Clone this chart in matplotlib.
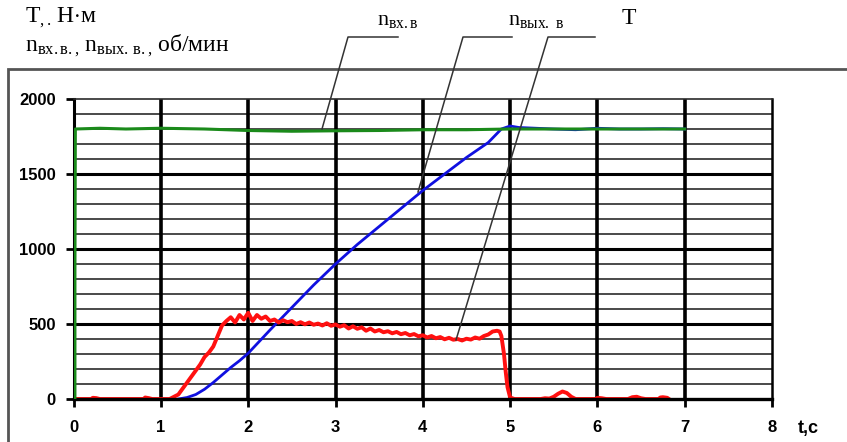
import matplotlib
matplotlib.use("Agg")
import matplotlib.pyplot as plt
from matplotlib.patches import Rectangle
from matplotlib.lines import Line2D

plt.rcParams["font.family"] = "Liberation Sans"
plt.rcParams["mathtext.fontset"] = "custom"
plt.rcParams["mathtext.rm"] = "Liberation Serif"
plt.rcParams["mathtext.it"] = "Liberation Serif"

# input shaft speed n_вх.в, rpm
t_in = [0.015, 0.015, 0.02, 0.3, 0.6, 1.0, 1.5, 2.0, 2.5, 3.0, 3.5, 4.0, 4.5, 5.0, 5.5, 6.0, 6.5, 7.0]
n_in = [0, 850, 1800, 1805, 1800, 1805, 1800, 1790, 1785, 1788, 1790, 1795, 1795, 1800, 1800, 1800, 1800, 1800]

# output shaft speed n_вых.в, rpm
t_out = [1.2, 1.3, 1.4, 1.5, 1.6, 1.7, 1.8, 1.9, 2.0, 2.25, 2.5, 2.75, 3.0, 3.25, 3.5, 3.75, 4.0,
         4.25, 4.5, 4.75, 4.9, 5.0, 5.1, 5.3, 5.5, 5.75, 6.0, 6.25, 6.5, 6.75, 7.0]
n_out = [0, 10, 30, 65, 110, 160, 210, 255, 305, 460, 610, 760, 900, 1030, 1150, 1270, 1390,
         1500, 1610, 1710, 1800, 1820, 1810, 1805, 1800, 1795, 1805, 1800, 1800, 1802, 1800]

# torque T, N*m
t_T = [0.0, 0.2, 0.22, 0.26, 0.3, 0.8, 0.82, 0.86, 0.9, 1.1, 1.15, 1.2, 1.25, 1.3, 1.35, 1.4, 1.45,
       1.5, 1.55, 1.6, 1.65, 1.7, 1.75, 1.8, 1.85, 1.9, 1.95, 2.0, 2.05, 2.1, 2.15, 2.2, 2.25, 2.3,
       2.35, 2.4, 2.45, 2.5, 2.55, 2.6, 2.65, 2.7, 2.75, 2.8, 2.85, 2.9, 2.95, 3.0, 3.05, 3.1,
       3.15, 3.2, 3.25, 3.3, 3.35, 3.4, 3.45, 3.5, 3.55, 3.6, 3.65, 3.7, 3.75, 3.8, 3.85, 3.9,
       3.95, 4.0, 4.05, 4.1, 4.15, 4.2, 4.25, 4.3, 4.35, 4.4, 4.45, 4.5, 4.55, 4.6, 4.65, 4.7,
       4.75, 4.8, 4.85, 4.88, 4.9, 4.93, 4.95, 4.97, 5.0, 5.05,
       5.35, 5.4, 5.45, 5.5, 5.55, 5.6, 5.65, 5.7, 5.75, 5.98, 6.0, 6.05, 6.1, 6.35, 6.4, 6.45,
       6.5, 6.55, 6.7, 6.72, 6.75, 6.8, 6.82]
T = [0, 0, 8, 6, 0, 0, 10, 6, 0, 0, 15, 30, 70, 110, 150, 190, 230,
     280, 310, 350, 420, 490, 520, 545, 510, 560, 530, 575, 520, 560, 535, 550, 520, 530,
     510, 525, 512, 520, 500, 512, 498, 510, 495, 503, 490, 505, 488, 497, 482, 492,
     470, 485, 468, 478, 455, 470, 450, 460, 445, 452, 438, 447, 432, 440, 425, 433,
     418, 425, 410, 420, 405, 413, 398, 408, 395, 400, 390, 402, 396, 410, 402, 420,
     430, 450, 455, 450, 420, 300, 180, 80, 10, 0,
     0, 5, 3, 15, 35, 50, 40, 15, 0, 0, 8, 5, 0, 0, 12, 15,
     5, 0, 0, 10, 12, 8, 0]

x_ticks = [0, 1, 2, 3, 4, 5, 6, 7, 8]
y_ticks = [0, 500, 1000, 1500, 2000]

fig = plt.figure(figsize=(8.47, 4.42), dpi=100)
W, H = 847, 442

# outer frame of the chart area
fig.patches.append(Rectangle((8 / W, -0.1), 1.2, 1 - 69 / H + 0.1, transform=fig.transFigure,
                             fill=False, edgecolor="#555555", linewidth=2))

ax = fig.add_axes([73.6 / W, 1 - 399 / H, (772 - 73.6) / W, 300 / H])
ax.set_xlim(0, 8)
ax.set_ylim(0, 2000)
ax.set_axisbelow(True)

for v in range(100, 2000, 100):
    if v % 500 == 0:
        ax.axhline(v, color="black", linewidth=2.2, zorder=0.5)
    else:
        ax.axhline(v, color="#2a2a2a", linewidth=1.2, zorder=0.5)
for v in range(1, 8):
    ax.axvline(v, color="black", linewidth=2.6, zorder=0.6)

ax.plot(t_in, n_in, color="#1a8a1a", linewidth=2.2, zorder=2.6)
ax.plot(t_out, n_out, color="#1010e0", linewidth=2.0, zorder=2.1)
ax.plot(t_T, T, color="#ff1010", linewidth=2.8, zorder=2.2)

ax.spines["left"].set_linewidth(2.2)
ax.spines["bottom"].set_linewidth(2.4)
ax.spines["top"].set_linewidth(1.2)
ax.spines["top"].set_color("#2a2a2a")
ax.spines["right"].set_linewidth(1.8)

ax.set_xticks(x_ticks)
ax.set_yticks(y_ticks)
ax.tick_params(axis="both", direction="out", length=6, width=2, labelsize=12)
ax.tick_params(axis="x", pad=9)
ax.tick_params(axis="y", pad=7)
for lab in ax.get_xticklabels() + ax.get_yticklabels():
    lab.set_fontweight("bold")

fig.text(798 / W, 1 - 428 / H, "t,c", fontsize=13, fontweight="bold", va="center", ha="left")

# axis captions (top-left)
fig.text(25 / W, 1 - 18 / H, r"$\mathrm{T_{,.}\,Н{\cdot}м}$", fontsize=17, va="center", ha="left")
fig.text(25 / W, 1 - 46 / H, r"$\mathrm{n_{вх.в.,}\,n_{вых.\,в.,}\,об/мин}$", fontsize=17,
         va="center", ha="left")

# curve labels with leader lines
fig.text(377 / W, 1 - 20 / H, r"$\mathrm{n_{вх.в}}$", fontsize=16, va="center", ha="left")
fig.text(508 / W, 1 - 20 / H, r"$\mathrm{n_{вых.\ в}}$", fontsize=16, va="center", ha="left")
fig.text(621 / W, 1 - 18 / H, r"$\mathrm{T}$", fontsize=17, va="center", ha="left")

leaders = [
    ([398, 348, 322], [37, 37, 129]),
    ([512, 463, 418], [37, 37, 192]),
    ([595, 548, 456], [37, 37, 340]),
]
for xs, ys in leaders:
    fig.lines.append(Line2D([x / W for x in xs], [1 - y / H for y in ys],
                            transform=fig.transFigure, color="#333333", linewidth=1.1,
                            zorder=5))

fig.savefig("out.png", dpi=100)
